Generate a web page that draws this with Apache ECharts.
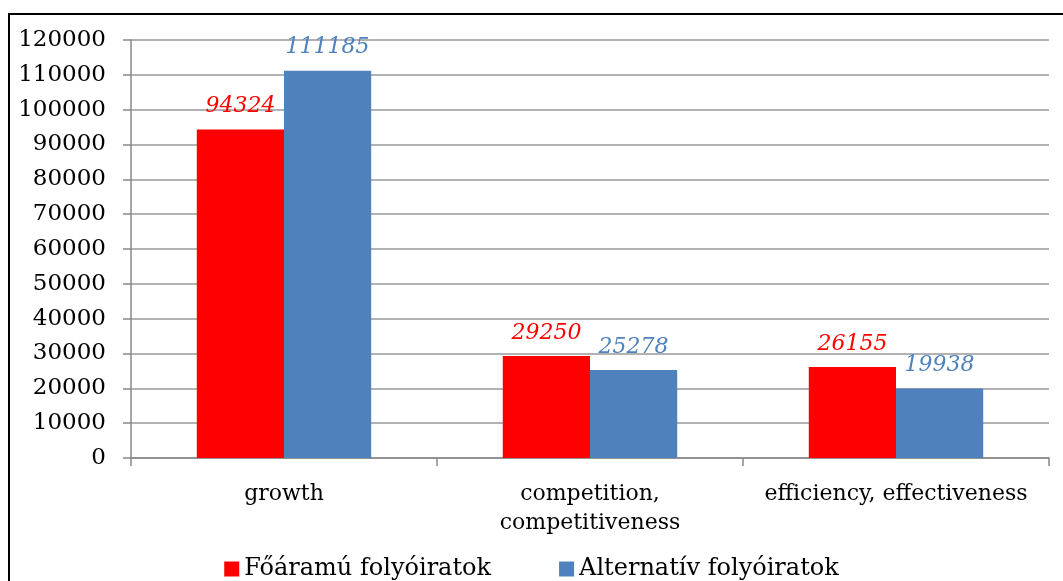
<!DOCTYPE html>
<html>
<head>
<meta charset="utf-8">
<script src="https://cdn.jsdelivr.net/npm/echarts@6/dist/echarts.min.js"></script>
<style>
  html, body { margin: 0; padding: 0; background: #fff; }
  #chart { width: 1063px; height: 581px; position: relative; }
  .frame {
    position: absolute; left: 8px; top: 13px; width: 1100px; height: 600px;
    border-left: 2px solid #000; border-top: 2px solid #000; pointer-events: none;
  }
</style>
</head>
<body>
<div id="chart"></div>
<div class="frame"></div>
<script>
const categories = ['growth', 'competition,\ncompetitiveness', 'efficiency, effectiveness'];
const mainstream = [94324, 29250, 26155];
const alternative = [111185, 25278, 19938];
const seriesNames = ['Főáramú folyóiratok', 'Alternatív folyóiratok'];

const font = 'DejaVu Serif';
const myChart = echarts.init(document.getElementById('chart'));

let option = {
  animation: false,
  color: ['#FF0000', '#4F81BD'],
  grid: { left: 131, right: 14, top: 40, bottom: 123 },
  legend: {
    top: 552,
    left: 'center',
    itemWidth: 15,
    itemHeight: 15,
    itemGap: 68,
    icon: 'rect',
    textStyle: { fontFamily: font, fontSize: 24, color: '#000' },
    data: seriesNames,
  },
  xAxis: {
    type: 'category',
    data: categories,
    axisLine: { lineStyle: { color: '#888', width: 1.5 } },
    axisTick: { show: true, length: 8, alignWithLabel: false, lineStyle: { color: '#888', width: 1.5 } },
    axisLabel: { interval: 0, margin: 22, fontFamily: font, fontSize: 22, color: '#000', lineHeight: 29 },
  },
  yAxis: {
    type: 'value',
    min: 0,
    max: 120000,
    interval: 10000,
    axisLine: { show: true, lineStyle: { color: '#888', width: 1.5 } },
    axisTick: { show: true, length: 8, lineStyle: { color: '#888', width: 1.5 } },
    axisLabel: { margin: 25, fontFamily: font, fontSize: 23, color: '#000', formatter: (v) => String(v) },
    splitLine: { lineStyle: { color: '#999', width: 1.5 } },
  },
  series: [
    {
      name: seriesNames[0],
      type: 'bar',
      data: mainstream,
      barGap: '0%',
      barCategoryGap: '43%',
      label: {
        show: true, position: 'top', distance: 12,
        fontFamily: font, fontStyle: 'italic', fontSize: 22, color: '#FF0000',
      },
    },
    {
      name: seriesNames[1],
      type: 'bar',
      data: alternative,
      barGap: '0%',
      barCategoryGap: '43%',
      label: {
        show: true, position: 'top', distance: 12,
        fontFamily: font, fontStyle: 'italic', fontSize: 22, color: '#4F81BD',
      },
    },
  ],
};
myChart.setOption(option);
</script>
</body>
</html>
